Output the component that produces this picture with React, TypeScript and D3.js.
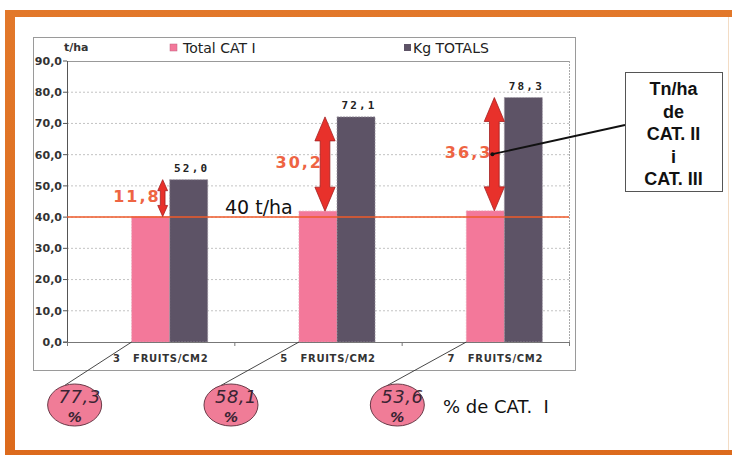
import React from "react";
import * as d3 from "d3";

// Fruit load per cm2 for each treatment
const fruitsPerCm2 = [3, 5, 7];
// Category I yield (t/ha)
const catI = [40.2, 41.9, 42.0];
// Total yield (t/ha)
const totals = [52.0, 72.1, 78.3];
const yTicks = [0, 10, 20, 30, 40, 50, 60, 70, 80, 90];
const threshold = 40;
const seriesNames = ["Total CAT I", "Kg TOTALS"];
const calloutLines = ["Tn/ha", "de", "CAT. II", "i", "CAT. III"];

const W = 732;
const H = 455;
const PINK = "#f3789a";
const GREY = "#5d5366";
const RED = "#e8312b";
const LABEL_RED = "#ee6443";
const SANS = "'DejaVu Sans', Verdana, sans-serif";

const fmt = (v: number) => d3.format(".1f")(v).replace(".", ",");

export default function App() {
  const plot = { left: 67, right: 569, top: 61, bottom: 342 };
  const y = d3.scaleLinear().domain([0, 90]).range([plot.bottom, plot.top]);
  const x0 = d3
    .scaleBand<string>()
    .domain(fruitsPerCm2.map(String))
    .range([plot.left, plot.right]);
  // Three slots per group; the first slot is an empty placeholder series
  const x1 = d3
    .scaleBand<string>()
    .domain(["pad", "cat1", "total"])
    .range([0, x0.bandwidth()])
    .paddingInner(0)
    .paddingOuter(0.7);
  const bw = x1.bandwidth();

  const bubbleDx = [-57, -68, -69];
  const arrowDx = [-7, -12, -10];

  const groups = fruitsPerCm2.map((f, i) => {
    const gx = x0(String(f))!;
    const pinkX = gx + x1("cat1")!;
    const greyX = gx + x1("total")!;
    const diff = totals[i] - catI[i];
    const pct = (catI[i] / totals[i]) * 100;
    return { f, i, gx, pinkX, greyX, diff, pct };
  });

  // Double-headed block arrow spanning yTop..yBot
  const arrowPath = (ax: number, yTop: number, yBot: number) => {
    const len = yBot - yTop;
    const hl = Math.min(24, len * 0.3);
    const hw = hl * 0.4 + 0.5;
    const sw = Math.max(2, hw * 0.48);
    return (
      [
        [ax, yTop],
        [ax + hw, yTop + hl],
        [ax + sw, yTop + hl],
        [ax + sw, yBot - hl],
        [ax + hw, yBot - hl],
        [ax, yBot],
        [ax - hw, yBot - hl],
        [ax - sw, yBot - hl],
        [ax - sw, yTop + hl],
        [ax - hw, yTop + hl],
      ]
        .map((p, k) => (k === 0 ? "M" : "L") + p[0] + "," + p[1])
        .join("") + "Z"
    );
  };

  const last = groups[groups.length - 1];
  const lastArrowX = last.pinkX + bw + arrowDx[last.i];
  const lastMid = (y(totals[last.i]) + y(catI[last.i])) / 2;
  const box = { x: 625, y: 72, w: 97, h: 119 };

  return (
    <svg
      width={W}
      height={H}
      style={{ position: "absolute", left: 0, top: 0, background: "#fff" }}
    >
      <defs>
        <clipPath id="unitClip">
          <rect x={60} y={35} width={30} height={25} />
        </clipPath>
        <linearGradient id="frameGrad" x1="0" x2="0" y1="0" y2="1">
          <stop offset="0" stopColor="#e2782a" />
          <stop offset="1" stopColor="#dc6a1c" />
        </linearGradient>
      </defs>

      {/* orange frame */}
      <rect x={5} y={10} width={740} height={460} fill="url(#frameGrad)" />
      <rect x={15} y={17} width={720} height={433} fill="#fff" />
      <line x1={728.5} x2={728.5} y1={17} y2={450} stroke="#f3dcc4" strokeWidth={1} />

      {/* chart box */}
      <rect x={33.5} y={37.5} width={542} height={333} fill="#fff" stroke="#9a9a9a" strokeWidth={1} />

      {/* gridlines */}
      {yTicks.filter((t) => t > 0 && t < 90).map((t) => (
        <line
          key={t}
          x1={plot.left}
          x2={plot.right}
          y1={y(t)}
          y2={y(t)}
          stroke="#b4b4b4"
          strokeWidth={0.8}
          strokeDasharray="2,2"
        />
      ))}
      <line x1={plot.left} x2={plot.right} y1={plot.top + 0.5} y2={plot.top + 0.5} stroke="#999" strokeWidth={1} />
      <line x1={plot.right + 0.5} x2={plot.right + 0.5} y1={plot.top} y2={plot.bottom} stroke="#aaa" strokeWidth={1} strokeDasharray="2,1" />

      {/* y axis labels */}
      {yTicks.map((t) => (
        <text
          key={t}
          x={62}
          y={y(t)}
          dy="0.35em"
          textAnchor="end"
          fontFamily={SANS}
          fontWeight="bold"
          fontSize={11}
          fill="#333"
        >
          {fmt(t)}
        </text>
      ))}
      <text x={64} y={51} fontFamily={SANS} fontWeight="bold" fontSize={11} fill="#333" clipPath="url(#unitClip)">
        t/ha
      </text>

      {/* bars */}
      {groups.map((g) => (
        <g key={g.f}>
          <rect
            x={g.pinkX}
            y={y(catI[g.i])}
            width={bw}
            height={plot.bottom - y(catI[g.i])}
            fill={PINK}
            stroke="#e7a0b4"
            strokeWidth={0.7}
            strokeDasharray="2,1"
          />
          <rect
            x={g.greyX}
            y={y(totals[g.i])}
            width={bw}
            height={plot.bottom - y(totals[g.i])}
            fill={GREY}
            stroke="#9d97a2"
            strokeWidth={0.7}
            strokeDasharray="2,1"
          />
          <text
            x={g.greyX + bw / 2 + 3}
            y={y(totals[g.i]) - 8}
            textAnchor="middle"
            fontFamily="'DejaVu Sans Mono', monospace"
            fontWeight="bold"
            fontSize={11}
            letterSpacing={2.2}
            fill="#222"
          >
            {fmt(totals[g.i])}
          </text>
        </g>
      ))}

      {/* axes */}
      <line x1={plot.left + 0.5} x2={plot.left + 0.5} y1={plot.top} y2={plot.bottom} stroke="#555" strokeWidth={1} />
      <line x1={plot.left - 4} x2={plot.right} y1={plot.bottom + 0.5} y2={plot.bottom + 0.5} stroke="#777" strokeWidth={1} />
      {yTicks.map((t) => (
        <line key={"t" + t} x1={plot.left - 4} x2={plot.left} y1={y(t)} y2={y(t)} stroke="#555" />
      ))}
      {[...x0.domain().map((d) => x0(d)!), plot.right].map((xv, k) => (
        <line key={"xt" + k} x1={xv + 0.5} x2={xv + 0.5} y1={plot.bottom} y2={plot.bottom + 4} stroke="#777" />
      ))}
      {groups.map((g) => (
        <text
          key={"c" + g.f}
          x={g.gx + x0.bandwidth() / 2 + 10}
          y={plot.bottom + 20}
          textAnchor="middle"
          fontFamily={SANS}
          fontWeight="bold"
          fontSize={10}
          letterSpacing={0.7}
          fill="#333"
          style={{ whiteSpace: "pre" }}
        >
          {`${g.f}   FRUITS/CM2`}
        </text>
      ))}

      {/* threshold line */}
      <line x1={plot.left} x2={plot.right} y1={y(threshold)} y2={y(threshold)} stroke="#ef5a2a" strokeWidth={1.5} />
      <text x={225} y={y(threshold) - 3} fontFamily={SANS} fontSize={19} fill="#111">
        {`${threshold} t/ha`}
      </text>

      {/* difference labels and arrows */}
      {groups.map((g) => {
        const ax = g.pinkX + bw + arrowDx[g.i];
        const yTop = y(totals[g.i]);
        const yBot = y(catI[g.i]);
        const mid = (yTop + yBot) / 2;
        return (
          <g key={"a" + g.f}>
            <text
              x={ax - 2}
              y={mid + 4}
              textAnchor="end"
              fontFamily={SANS}
              fontWeight="bold"
              fontSize={16}
              letterSpacing={2}
              fill={LABEL_RED}
            >
              {fmt(g.diff)}
            </text>
            <path d={arrowPath(ax, yTop, yBot)} fill={RED} stroke="#a52020" strokeWidth={0.8} />
          </g>
        );
      })}

      {/* legend */}
      <rect x={170} y={44} width={7} height={7} fill={PINK} stroke="#c06080" strokeWidth={0.5} />
      <text x={183} y={52.5} fontFamily={SANS} fontSize={14} fill="#222">
        {seriesNames[0]}
      </text>
      <rect x={404} y={44} width={7} height={7} fill={GREY} />
      <text x={413} y={52.5} fontFamily={SANS} fontSize={14} fill="#222">
        {seriesNames[1]}
      </text>

      {/* callout */}
      <line x1={box.x} y1={125} x2={lastArrowX - 2} y2={lastMid} stroke="#111" strokeWidth={1.8} />
      <circle cx={lastArrowX - 2} cy={lastMid} r={2} fill="#111" />
      <rect x={box.x + 0.5} y={box.y + 0.5} width={box.w} height={box.h} fill="#fff" stroke="#555" strokeWidth={1} />
      {calloutLines.map((l, k) => (
        <text
          key={l}
          x={box.x + box.w / 2}
          y={box.y + 23 + k * 22.5}
          textAnchor="middle"
          fontFamily="'Liberation Sans', Arial, sans-serif"
          fontWeight="bold"
          fontSize={18}
          fill="#111"
        >
          {l}
        </text>
      ))}

      {/* percentage bubbles */}
      {groups.map((g) => {
        const cx = g.pinkX + bubbleDx[g.i];
        const cy = 405;
        const rx = 27;
        const ry = 21;
        const th = (-112 * Math.PI) / 180;
        return (
          <g key={"b" + g.f}>
            <line
              x1={g.pinkX}
              y1={plot.bottom}
              x2={cx + rx * Math.cos(th)}
              y2={cy + ry * Math.sin(th)}
              stroke="#333"
              strokeWidth={0.9}
            />
            <ellipse cx={cx} cy={cy} rx={rx} ry={ry} fill="#f07c97" stroke="#6a3a48" strokeWidth={1} />
            <text
              x={cx + 5}
              y={cy - 2}
              textAnchor="middle"
              fontFamily={SANS}
              fontStyle="italic"
              fontSize={18}
              letterSpacing={0.5}
              fill="#3a2433"
            >
              {fmt(g.pct)}
            </text>
            <text
              x={cx}
              y={cy + 17}
              textAnchor="middle"
              fontFamily={SANS}
              fontStyle="italic"
              fontWeight="bold"
              fontSize={14}
              fill="#3a2433"
            >
              %
            </text>
          </g>
        );
      })}
      <text x={443} y={413} fontFamily={SANS} fontSize={18} fill="#111" style={{ whiteSpace: "pre" }}>
        {"% de CAT.  I"}
      </text>
    </svg>
  );
}
